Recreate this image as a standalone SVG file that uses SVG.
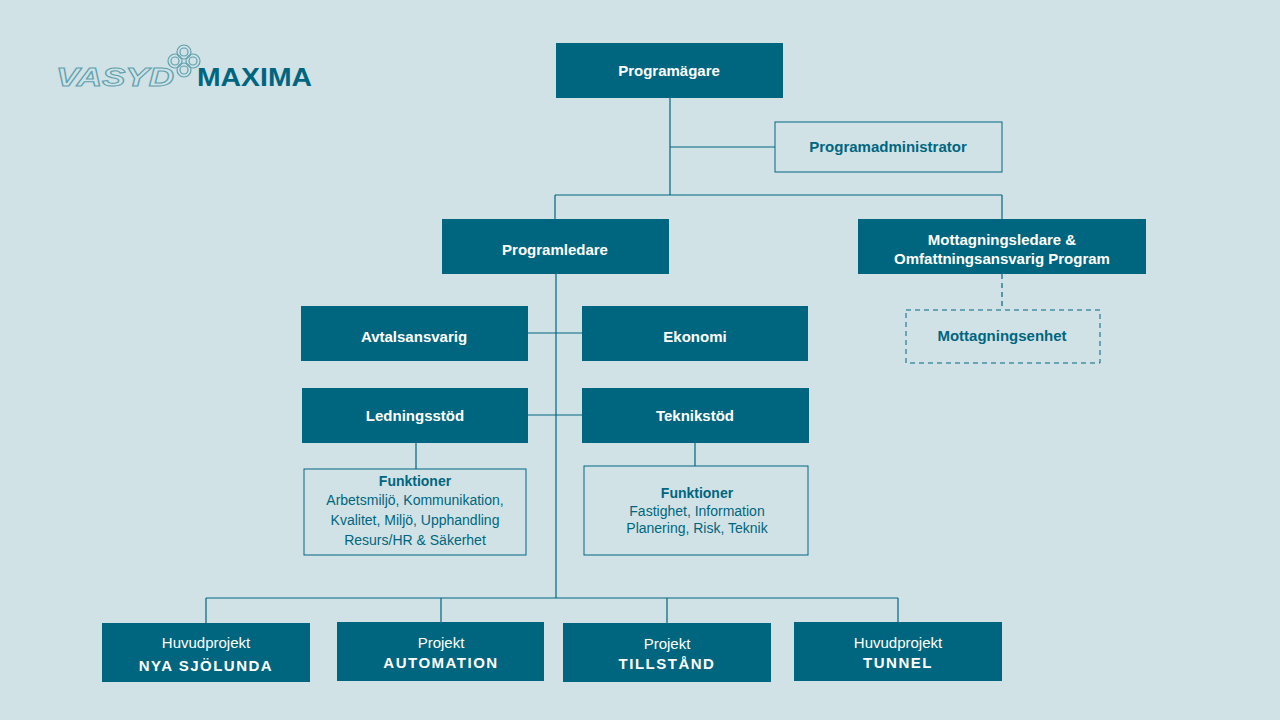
<svg xmlns="http://www.w3.org/2000/svg" width="1280" height="720" viewBox="0 0 1280 720">
<style>
.d{fill:#006680}
.o{fill:none;stroke:#006680;stroke-width:1}
.t{font-family:"Liberation Sans",Arial,sans-serif;font-size:15px;font-weight:bold;fill:#fff;text-anchor:middle}
.b{font-family:"Liberation Sans",Arial,sans-serif;font-size:15px;font-weight:bold;fill:#006680;text-anchor:middle}
.n{font-family:"Liberation Sans",Arial,sans-serif;font-size:14px;fill:#006680;text-anchor:middle}
.w{font-family:"Liberation Sans",Arial,sans-serif;font-size:15px;fill:#fff;text-anchor:middle}
.c{fill:none;stroke:#006680;stroke-width:1.2}
</style>
<rect width="1280" height="720" fill="#d0e2e6"/>
<g id="logo">
<text x="56" y="86" textLength="118" lengthAdjust="spacingAndGlyphs" font-family="Liberation Sans,Arial,sans-serif" font-size="25" font-weight="bold" font-style="italic" fill="none" stroke="#5fa0ad" stroke-width="1">VASYD</text>
<g fill="none" stroke="#5fa0ad" stroke-width="1.2">
<circle cx="184" cy="52" r="4"/><circle cx="184" cy="70" r="4"/><circle cx="175" cy="61" r="4"/><circle cx="193" cy="61" r="4"/>
<circle cx="184" cy="52" r="7"/><circle cx="184" cy="70" r="7"/><circle cx="175" cy="61" r="7"/><circle cx="193" cy="61" r="7"/>
</g>
<text x="197" y="86" textLength="115" lengthAdjust="spacingAndGlyphs" font-family="Liberation Sans,Arial,sans-serif" font-size="25" font-weight="bold" fill="#006680">MAXIMA</text>
</g>
<g id="connectors" class="c">
<path d="M670 98V195M670 147H775M555 195H1002M555 195V220M1002 195V220"/>
<path d="M556 274V598M528 333H582M528 415H582M416 443V469M695 443V466"/>
<path d="M1002 274V310" stroke-dasharray="5 4"/>
<path d="M206 598H898M206 598V623M441 598V622M667 598V623M898 598V622"/>
</g>
<g id="n1"><rect class="d" x="556" y="43" width="227" height="55"/><text class="t" x="669" y="76">Programägare</text></g>
<g id="n2"><rect class="o" x="775" y="122" width="227" height="50" fill="none"/><text class="b" x="888" y="152">Programadministrator</text></g>
<g id="n3"><rect class="d" x="442" y="219" width="227" height="55"/><text class="t" x="555" y="255">Programledare</text></g>
<g id="n4"><rect class="d" x="858" y="219" width="288" height="55"/><text class="t" x="1002" y="245">Mottagningsledare &amp;</text><text class="t" x="1002" y="264">Omfattningsansvarig Program</text></g>
<g id="n5"><rect x="906" y="310" width="194" height="53" fill="none" stroke="#006680" stroke-dasharray="5 4"/><text class="b" x="1002" y="341">Mottagningsenhet</text></g>
<g id="n6"><rect class="d" x="301" y="306" width="227" height="55"/><text class="t" x="414" y="342">Avtalsansvarig</text></g>
<g id="n7"><rect class="d" x="582" y="306" width="226" height="55"/><text class="t" x="695" y="342">Ekonomi</text></g>
<g id="n8"><rect class="d" x="302" y="388" width="226" height="55"/><text class="t" x="415" y="421">Ledningsstöd</text></g>
<g id="n9"><rect class="d" x="582" y="388" width="227" height="55"/><text class="t" x="695" y="421">Teknikstöd</text></g>
<g id="n10"><rect class="o" x="304" y="469" width="222" height="86"/>
<text class="b" x="415" y="486" style="font-size:14px">Funktioner</text>
<text class="n" x="415" y="505">Arbetsmiljö, Kommunikation,</text>
<text class="n" x="415" y="525">Kvalitet, Miljö, Upphandling</text>
<text class="n" x="415" y="545">Resurs/HR &amp; Säkerhet</text></g>
<g id="n11"><rect class="o" x="584" y="466" width="224" height="89"/>
<text class="b" x="697" y="498" style="font-size:14px">Funktioner</text>
<text class="n" x="697" y="516">Fastighet, Information</text>
<text class="n" x="697" y="533">Planering, Risk, Teknik</text></g>
<g id="p1"><rect class="d" x="102" y="623" width="208" height="59"/><text class="w" x="206" y="648">Huvudprojekt</text><text class="t" x="206" y="671" letter-spacing="1.5">NYA SJÖLUNDA</text></g>
<g id="p2"><rect class="d" x="337" y="622" width="207" height="59"/><text class="w" x="441" y="648">Projekt</text><text class="t" x="441" y="668" letter-spacing="1.5">AUTOMATION</text></g>
<g id="p3"><rect class="d" x="563" y="623" width="208" height="59"/><text class="w" x="667" y="649">Projekt</text><text class="t" x="667" y="669" letter-spacing="1.5">TILLSTÅND</text></g>
<g id="p4"><rect class="d" x="794" y="622" width="208" height="59"/><text class="w" x="898" y="648">Huvudprojekt</text><text class="t" x="898" y="668" letter-spacing="1.5">TUNNEL</text></g>
</svg>
